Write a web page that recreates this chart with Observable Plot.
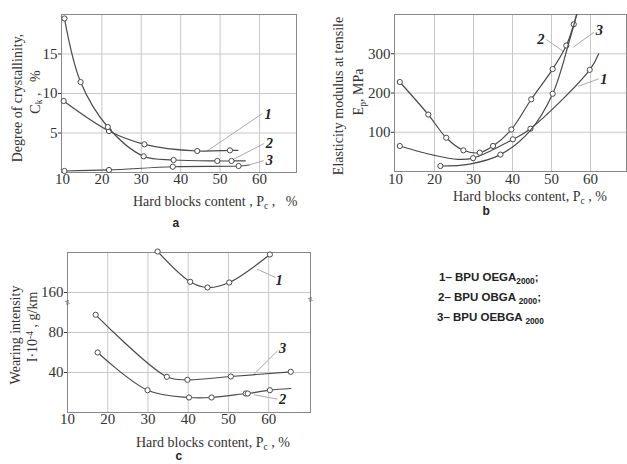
<!DOCTYPE html>
<html><head><meta charset="utf-8">
<script src="https://cdn.jsdelivr.net/npm/d3@7"></script>
<script src="https://cdn.jsdelivr.net/npm/@observablehq/plot@0.6"></script>
<style>
body{margin:0;background:#fff;}
#root{position:relative;width:627px;height:464px;overflow:hidden;background:#fff;}
.abs{position:absolute;white-space:nowrap;}
.serif{font-family:"Liberation Serif",serif;font-size:14px;color:#333;}
.letter{font-family:"Liberation Sans",sans-serif;font-weight:bold;font-size:12px;color:#222;}
.legend{font-family:"Liberation Sans",sans-serif;font-weight:bold;font-size:11.5px;color:#222;}
.legend sub{font-size:72%;vertical-align:-0.35em;}
sub,sup{font-size:68%;line-height:0;}
sub{vertical-align:-0.3em;}
sup{vertical-align:0.5em;}
</style></head><body><div id="root"></div>
<script>
// ---------- Panel a: degree of crystallinity ----------
const aXTicks = [10, 20, 30, 40, 50, 60];
const aYTicks = [5, 10, 15];
// [x, y, marker?]
const a1 = [[10.3,9.05,1],[21.8,5.25,1],[30.8,3.57,1],[44.2,2.72,1],[52.5,2.8,1],[54.5,2.8,0]];
const a2 = [[10.5,19.5,1],[14.6,11.45,1],[21.5,5.76,1],[30.6,2.05,1],[38.2,1.58,1],[49.3,1.46,1],[52.9,1.46,1],[56.4,1.46,0]];
const a3 = [[10.5,0.19,1],[21.8,0.32,1],[38.0,0.73,1],[54.7,0.82,1],[57.3,0.95,0]];
const aLeaders = [[46.7,2.72,60.7,7.45],[52.6,1.46,61.1,3.65],[57.3,0.95,61.1,1.5]];
const aLabels = [["1",62.2,7.4],["2",62.5,3.65],["3",62.5,1.6]];

// ---------- Panel b: elasticity modulus ----------
const bXTicks = [10, 20, 30, 40, 50, 60];
const bYTicks = [100, 200, 300];
const b1 = [[11.1,65,1],[20,41,0],[26,31,0],[29.9,34,1],[40.1,82,1],[44.6,109,1],[59.8,259,1],[62.1,300,0]];
const b2 = [[11.1,228,1],[18.4,145,1],[23.0,86,1],[27.4,54,1],[31.6,48,1],[35.0,65,1],[39.7,107,1],[44.8,184,1],[50.3,261,1],[53.8,321,1],[55.7,375,1],[56.6,405,0]];
const b3 = [[21.5,14,1],[29,19,0],[36.9,43,1],[44.6,105,0],[50.3,198,1],[54.5,330,0],[56.6,405,0]];
const bLeaders = [[48.7,336,52.9,307],[60.9,355,55.6,317],[56.8,217,62.1,236]];
const bLabels = [["2",47.3,336],["3",62.3,360],["1",63.4,236]];

// ---------- Panel c: wearing intensity (broken axis) ----------
const cXTicks = [10, 20, 30, 40, 50, 60];
const cYTicks = [40, 80, 160];
const cGap = 40;      // values skipped by the axis break
const c1 = [[32.4,201,1],[40.5,170.7,1],[44.8,165,1],[50.2,170,1],[60.3,198,1]];
const c2 = [[17.5,60,1],[29.9,22.3,1],[40.2,15,1],[45.8,15,1],[54.3,19,1],[54.8,19,1],[60.3,22.3,1],[65.5,24,0]];
const c3 = [[17.0,97.7,1],[34.7,35.7,1],[39.8,32.7,1],[50.6,36,1],[65.5,40.7,1]];
const cLeaders = [[57.1,183.4,61.7,175],[56.4,38.4,62.2,61.7],[56.4,17.7,62.2,13.4]];
const cLabels = [["1",62.6,172],["3",63.5,64],["2",63.5,13.5]];
const cBreaks = [[10,110],[70.4,113]];

// legend entries
const legendItems = [["1– BPU OEGA","2000",";"],["2– BPU OBGA ","2000",";"],["3– BPU OEBGA ","2000",""]];

// ---------- drawing ----------
const root = document.getElementById("root");
const INK = "#4a4a4a";
const baseStyle = {fontFamily:'"Liberation Serif", serif', fontSize:"15px", color:"#333", background:"transparent"};

function curveMarks(series, ty = d => d) {
  const marks = [];
  for (const s of series) {
    marks.push(Plot.line(s, {x: d => d[0], y: d => ty(d[1]), curve: "catmull-rom", stroke: INK, strokeWidth: 1.2, clip: true}));
    marks.push(Plot.dot(s.filter(d => d[2]), {x: d => d[0], y: d => ty(d[1]), r: 2.6, stroke: INK, fill: "white", strokeWidth: 1}));
  }
  return marks;
}
function annot(leaders, labels, ty = d => d) {
  return [
    Plot.link(leaders, {x1: d => d[0], y1: d => ty(d[1]), x2: d => d[2], y2: d => ty(d[3]), stroke: "#aaa", strokeWidth: 1}),
    Plot.text(labels, {x: d => d[1], y: d => ty(d[2]), text: d => d[0], fontSize: 14.5, fontWeight: "bold", fontStyle: "italic", fill: "#222", fontFamily: '"Liberation Serif", serif'})
  ];
}
function place(el, left, top) {
  el.style.position = "absolute"; el.style.left = left + "px"; el.style.top = top + "px";
  root.appendChild(el);
}
function hText(html, cx, cy, cls) {
  const d = document.createElement("div");
  d.className = "abs " + cls; d.innerHTML = html;
  root.appendChild(d);
  const w = d.offsetWidth, h = d.offsetHeight;
  d.style.left = (cx - w / 2) + "px"; d.style.top = (cy - h / 2) + "px";
}
function vText(html, cx, cy, cls) {
  const d = document.createElement("div");
  d.className = "abs " + cls; d.innerHTML = html;
  root.appendChild(d);
  const w = d.offsetWidth, h = d.offsetHeight;
  d.style.left = (cx - w / 2) + "px"; d.style.top = (cy - h / 2) + "px";
  d.style.transform = "rotate(-90deg)";
}

// Panel a
place(Plot.plot({
  width: 310, height: 195, marginLeft: 61, marginRight: 14, marginTop: 14, marginBottom: 23,
  style: baseStyle,
  x: {domain: [9.75, 69.4]}, y: {domain: [0, 20]},
  marks: [
    Plot.gridX(aXTicks.slice(1), {stroke: "#c8c8c8", strokeOpacity: 1}),
    Plot.gridY(aYTicks, {stroke: "#c8c8c8", strokeOpacity: 1}),
    Plot.frame({stroke: "#888"}),
    Plot.axisX(aXTicks, {tickSize: 0, tickPadding: 1, label: null}),
    Plot.axisY(aYTicks, {tickSize: 3, tickPadding: 1, label: null}),
    ...annot(aLeaders, aLabels),
    ...curveMarks([a1, a2, a3])
  ]
}), 0, 0);

// Panel b
place(Plot.plot({
  width: 307, height: 195, marginLeft: 74, marginRight: 1, marginTop: 14, marginBottom: 24,
  style: baseStyle,
  x: {domain: [9.74, 69.23]}, y: {domain: [0, 400]},
  marks: [
    Plot.gridX(bXTicks.slice(1), {stroke: "#c8c8c8", strokeOpacity: 1}),
    Plot.gridY(bYTicks, {stroke: "#c8c8c8", strokeOpacity: 1}),
    Plot.frame({stroke: "#888"}),
    Plot.axisX(bXTicks, {tickSize: 0, tickPadding: 2, label: null}),
    Plot.axisY(bYTicks, {tickSize: 3, tickPadding: 1, label: null}),
    ...annot(bLeaders, bLabels),
    ...curveMarks([b1, b2, b3])
  ]
}), 320, 0);

// Panel c
const toAxis = v => (v >= 120 + cGap / 2 ? v - cGap : v);
const fromAxis = v => (v >= 120 ? v + cGap : v);
place(Plot.plot({
  width: 320, height: 200, marginLeft: 67, marginRight: 10, marginTop: 22, marginBottom: 18,
  style: baseStyle,
  x: {domain: [10, 70.4]}, y: {domain: [0, 160]},
  marks: [
    Plot.gridX(cXTicks.slice(1), {stroke: "#c8c8c8", strokeOpacity: 1}),
    Plot.gridY(cYTicks.map(toAxis), {stroke: "#c8c8c8", strokeOpacity: 1}),
    Plot.frame({stroke: "#888"}),
    Plot.axisX(cXTicks, {tickSize: 0, tickPadding: 1, label: null}),
    Plot.axisY(cYTicks.map(toAxis), {tickSize: 3, tickPadding: 1, label: null, tickFormat: d => String(fromAxis(d))}),
    Plot.text(cBreaks, {x: d => d[0], y: d => d[1], text: () => "≈", rotate: 60, fontSize: 10, fill: "#555"}),
    ...annot(cLeaders, cLabels, toAxis),
    ...curveMarks([c1, c2, c3], toAxis)
  ]
}), 0, 230);

// axis titles
vText("Degree of crystallinity,", 18, 98, "serif");
vText("C<sub>k</sub> ,&nbsp;&nbsp; %", 35, 92, "serif");
hText("Hard blocks content , P<sub>c</sub> ,&nbsp;&nbsp;&nbsp;%", 215, 202, "serif");
hText("a", 176, 223, "letter");

vText("Elasticity modulus at tensile", 339, 96, "serif");
vText("E<sub>p</sub>, MPa", 359, 92, "serif");
hText("Hard blocks content, P<sub>c</sub> , %", 530, 197, "serif");
hText("b", 486, 211, "letter");

vText("Wearing intensity", 16, 335, "serif");
vText("I·10<sup>-4</sup> , g/km", 33, 327, "serif");
hText("Hard blocks content, P<sub>c</sub> , %", 213, 443, "serif");
hText("c", 179, 456, "letter");

// legend
legendItems.forEach((it, i) => {
  const d = document.createElement("div");
  d.className = "abs legend";
  d.innerHTML = it[0] + "<sub>" + it[1] + "</sub>" + it[2];
  root.appendChild(d);
  d.style.left = (439 - i) + "px";
  d.style.top = (277 + 20 * i - d.offsetHeight / 2) + "px";
});
</script></body></html>
